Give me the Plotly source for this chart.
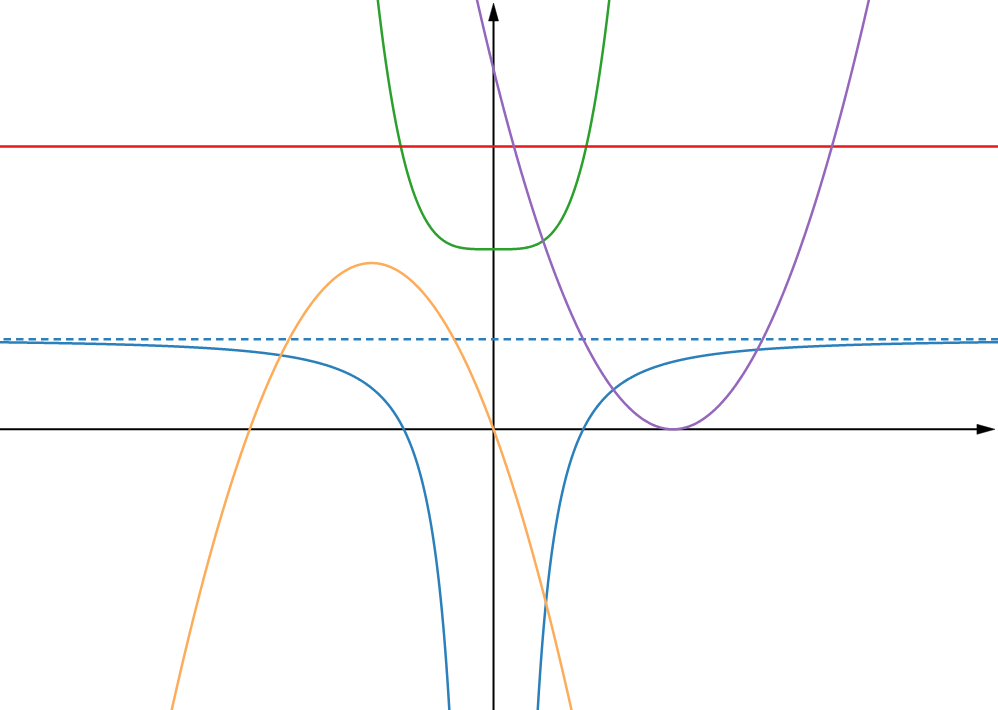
import numpy as np
import plotly.graph_objects as go

# ---- chart data (the plotted functions) ----
# Polynomial coefficients (highest power first)
orange_coeffs = [-1.0, -np.e, 0.0]        # y = -x^2 - e*x
green_coeffs = [1.0, 0.0, 0.0, 0.0, 2.0]  # y = x^4 + 2
purple_coeffs = [1.0, -4.0, 4.0]          # y = (x - 2)^2
blue_level = 1.0                          # y = 1 - 1/x^2 (asymptote level)
blue_pole_strength = 1.0
red_level = np.pi                         # horizontal line y = pi
dashed_level = 1.0                        # horizontal asymptote y = 1

x_range = [-5.502, 5.624]
y_range = [-3.119, 4.770]
x_axis_tip = 5.59
y_axis_tip = 4.737

colors = {
    "blue": "#2b80bb",
    "orange": "#fdac5a",
    "green": "#2ca02c",
    "red": "#e31a1c",
    "purple": "#9467bd",
}

xs = np.linspace(x_range[0] - 0.1, x_range[1] + 0.1, 2001)
xs_left = np.linspace(x_range[0] - 0.1, -0.44, 1200)
xs_right = np.linspace(0.44, x_range[1] + 0.1, 1200)

LW = 2.5
fig = go.Figure()

# axes
fig.add_trace(go.Scatter(x=[x_range[0] - 0.1, x_axis_tip - 0.1], y=[0, 0], mode="lines",
                         line=dict(color="black", width=2), hoverinfo="skip"))
fig.add_trace(go.Scatter(x=[0, 0], y=[y_range[0] - 0.1, y_axis_tip - 0.1], mode="lines",
                         line=dict(color="black", width=2), hoverinfo="skip"))

# dashed asymptote
fig.add_trace(go.Scatter(x=[xs[0], xs[-1]], y=[dashed_level, dashed_level], mode="lines",
                         line=dict(color=colors["blue"], width=LW, dash="7.5px,5px")))
# blue rational curve
for xb in (xs_left, xs_right):
    fig.add_trace(go.Scatter(x=xb, y=blue_level - blue_pole_strength / xb**2, mode="lines",
                             line=dict(color=colors["blue"], width=LW, simplify=False)))
# orange parabola
fig.add_trace(go.Scatter(x=xs, y=np.polyval(orange_coeffs, xs), mode="lines",
                         line=dict(color=colors["orange"], width=LW, simplify=False)))
# green quartic
fig.add_trace(go.Scatter(x=xs, y=np.polyval(green_coeffs, xs), mode="lines",
                         line=dict(color=colors["green"], width=LW, simplify=False)))
# red horizontal line
fig.add_trace(go.Scatter(x=[xs[0], xs[-1]], y=[red_level, red_level], mode="lines",
                         line=dict(color=colors["red"], width=LW)))
# purple parabola
fig.add_trace(go.Scatter(x=xs, y=np.polyval(purple_coeffs, xs), mode="lines",
                         line=dict(color=colors["purple"], width=LW, simplify=False)))

# arrowheads
fig.add_shape(type="path", xref="x", yref="y", xsizemode="pixel", ysizemode="pixel",
              xanchor=x_axis_tip, yanchor=0, path="M 0 0 L -18 5 L -18 -5 Z",
              fillcolor="black", line=dict(color="black", width=0.5), layer="above")
fig.add_shape(type="path", xref="x", yref="y", xsizemode="pixel", ysizemode="pixel",
              xanchor=0, yanchor=y_axis_tip, path="M 0 0 L -5 -18 L 5 -18 Z",
              fillcolor="black", line=dict(color="black", width=0.5), layer="above")

fig.update_layout(
    width=998, height=710,
    margin=dict(l=0, r=0, t=0, b=0),
    paper_bgcolor="white", plot_bgcolor="white",
    showlegend=False,
    hovermode=False,
    xaxis=dict(range=x_range, visible=False, showgrid=False, zeroline=False),
    yaxis=dict(range=y_range, visible=False, showgrid=False, zeroline=False),
)

fig.write_html(
    "out.html",
    config={"displayModeBar": False, "staticPlot": True},
    post_script="document.body.style.margin='0';document.body.style.overflow='hidden';",
)
